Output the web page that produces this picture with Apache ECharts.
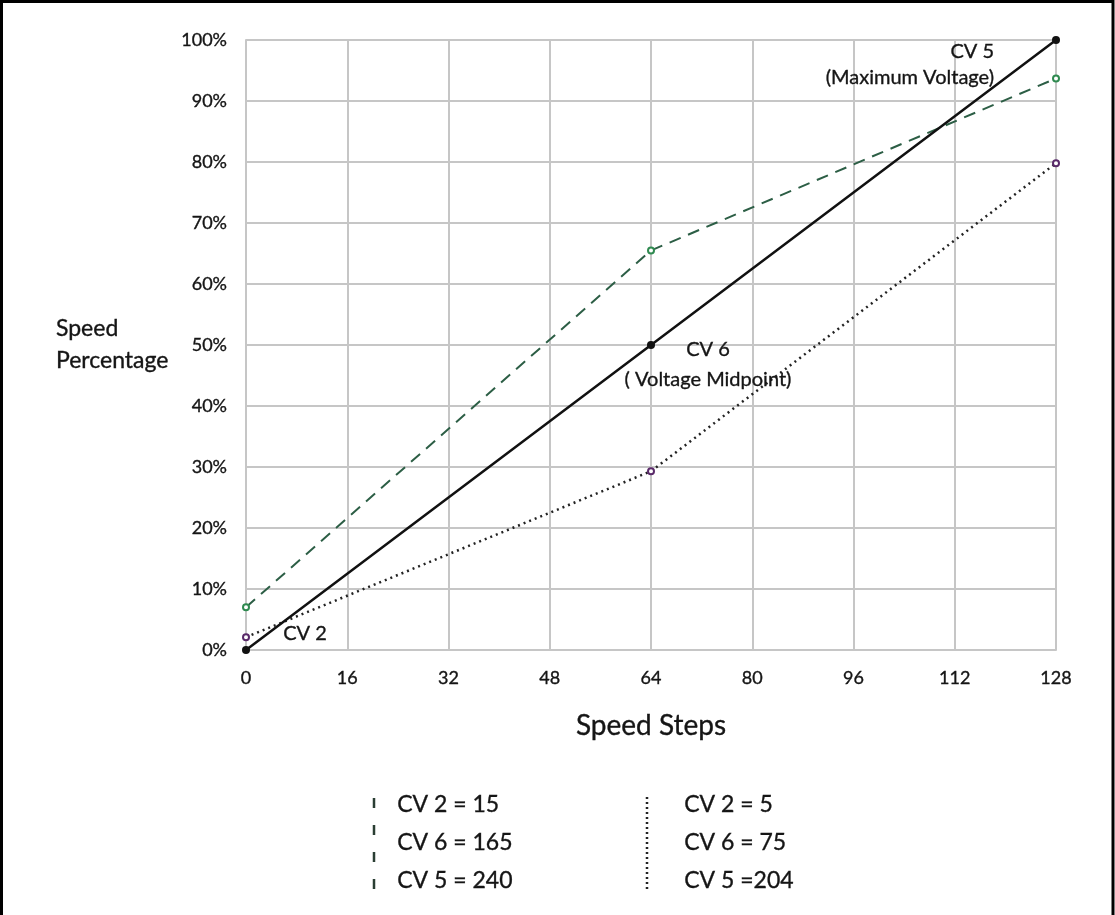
<!DOCTYPE html>
<html>
<head>
<meta charset="utf-8">
<script src="https://cdn.jsdelivr.net/npm/echarts@6/dist/echarts.min.js"></script>
<style>
html,body{margin:0;padding:0;background:#fff;}
#chart{width:1115px;height:915px;}
</style>
</head>
<body>
<div id="chart"></div>
<script>
// ---- data ----
const steps = [0, 64, 128];
const cvLinear = [0, 50, 100];
const cvHigh = [7.0, 65.5, 93.7];
const cvLow = [2.1, 29.3, 79.8];
const xTickInterval = 16;
const yTickInterval = 10;
const annoMax = ['CV 5', '(Maximum Voltage)'];
const annoMid = ['CV 6', '( Voltage Midpoint)'];
const annoMin = ['CV 2'];
const legendHigh = ['CV 2 = 15', 'CV 6 = 165', 'CV 5 = 240'];
const legendLow = ['CV 2 = 5', 'CV 6 = 75', 'CV 5 =204'];
const xName = 'Speed Steps';
const yName = ['Speed', 'Percentage'];

const FONT = 'Lato, "Open Sans", sans-serif';
const TXT = '#151515';
const thick = {textBorderColor: TXT, textBorderWidth: 0.35};
const pair = (ys) => steps.map((s, i) => [s, ys[i]]);
const gridColor = '#c6c6c6';

const chart = echarts.init(document.getElementById('chart'), null, {renderer: 'canvas'});

const legendGraphics = [];
legendHigh.forEach((t, i) => {
  legendGraphics.push({type: 'text', left: 397, top: 808 + i * 38 - 15,
    style: Object.assign({text: t, font: '23px ' + FONT, fill: TXT, stroke: TXT, lineWidth: 0.35})});
});
legendLow.forEach((t, i) => {
  legendGraphics.push({type: 'text', left: 684, top: 808 + i * 38 - 15,
    style: Object.assign({text: t, font: '23px ' + FONT, fill: TXT, stroke: TXT, lineWidth: 0.35})});
});

const option = {
  animation: false,
  backgroundColor: '#ffffff',
  textStyle: {fontFamily: FONT},
  grid: {left: 246, right: 59, top: 40, bottom: 265, containLabel: false},
  xAxis: {
    type: 'value', min: 0, max: 128, interval: xTickInterval,
    name: xName, nameLocation: 'middle', nameGap: 62,
    nameTextStyle: Object.assign({fontSize: 28, color: TXT, fontFamily: FONT}, thick),
    axisLine: {show: true, lineStyle: {color: gridColor, width: 2}},
    axisTick: {show: false},
    axisLabel: Object.assign({fontSize: 18, color: TXT, margin: 19, fontFamily: FONT}, thick),
    splitLine: {show: true, lineStyle: {color: gridColor, width: 2}}
  },
  yAxis: {
    type: 'value', min: 0, max: 100, interval: yTickInterval,
    name: yName.join('\n'), nameLocation: 'middle', nameRotate: 0, nameGap: 190,
    nameTextStyle: Object.assign({fontSize: 23, color: TXT, align: 'left', verticalAlign: 'middle', lineHeight: 32, fontFamily: FONT}, thick),
    axisLine: {show: true, lineStyle: {color: gridColor, width: 2}},
    axisTick: {show: false},
    axisLabel: Object.assign({fontSize: 18, color: TXT, margin: 19, formatter: '{value}%', fontFamily: FONT}, thick),
    splitLine: {show: true, lineStyle: {color: gridColor, width: 2}}
  },
  series: [
    {
      type: 'line', name: 'high', data: pair(cvHigh), z: 3,
      lineStyle: {color: '#2c5e45', width: 2, type: [12, 8]},
      symbol: 'emptyCircle', symbolSize: 6,
      itemStyle: {color: '#2f8a50', borderWidth: 2},
      clip: false
    },
    {
      type: 'line', name: 'low', data: pair(cvLow), z: 3,
      lineStyle: {color: '#222', width: 2.5, type: [2, 4]},
      symbol: 'emptyCircle', symbolSize: 6,
      itemStyle: {color: '#5a2a6a', borderWidth: 2},
      clip: false
    },
    {
      type: 'line', name: 'linear', data: pair(cvLinear), z: 4,
      lineStyle: {color: '#111', width: 2.5, type: 'solid'},
      symbol: 'circle', symbolSize: 8,
      itemStyle: {color: '#111'},
      clip: false,
      markPoint: {
        symbol: 'circle', symbolSize: 0,
        label: Object.assign({show: true, position: 'inside', fontSize: 20, color: TXT, fontFamily: FONT}, thick),
        data: [
          {coord: [steps[2], cvLinear[2]],
           label: {formatter: annoMax.join('\n'), align: 'right', verticalAlign: 'middle', lineHeight: 26, offset: [-62, 25]}},
          {coord: [steps[1], cvLinear[1]],
           label: {formatter: annoMid.join('\n'), align: 'center', verticalAlign: 'middle', lineHeight: 30, offset: [57, 20]}},
          {coord: [steps[0], cvLinear[0]],
           label: {formatter: annoMin.join('\n'), align: 'center', verticalAlign: 'middle', offset: [59, -16]}}
        ]
      }
    }
  ],
  graphic: [
    {type: 'rect', shape: {x: 1.5, y: 1.5, width: 1111.5, height: 940},
     style: {fill: 'none', stroke: '#000', lineWidth: 3}, silent: true, z: 100},
    {type: 'line', shape: {x1: 374, y1: 798, x2: 374, y2: 891},
     style: {stroke: '#2a3e33', lineWidth: 2.5, lineDash: [10, 17]}},
    {type: 'line', shape: {x1: 647, y1: 797, x2: 647, y2: 892},
     style: {stroke: '#222', lineWidth: 2.5, lineDash: [2, 3]}}
  ].concat(legendGraphics)
};
chart.setOption(option);
</script>
</body>
</html>
